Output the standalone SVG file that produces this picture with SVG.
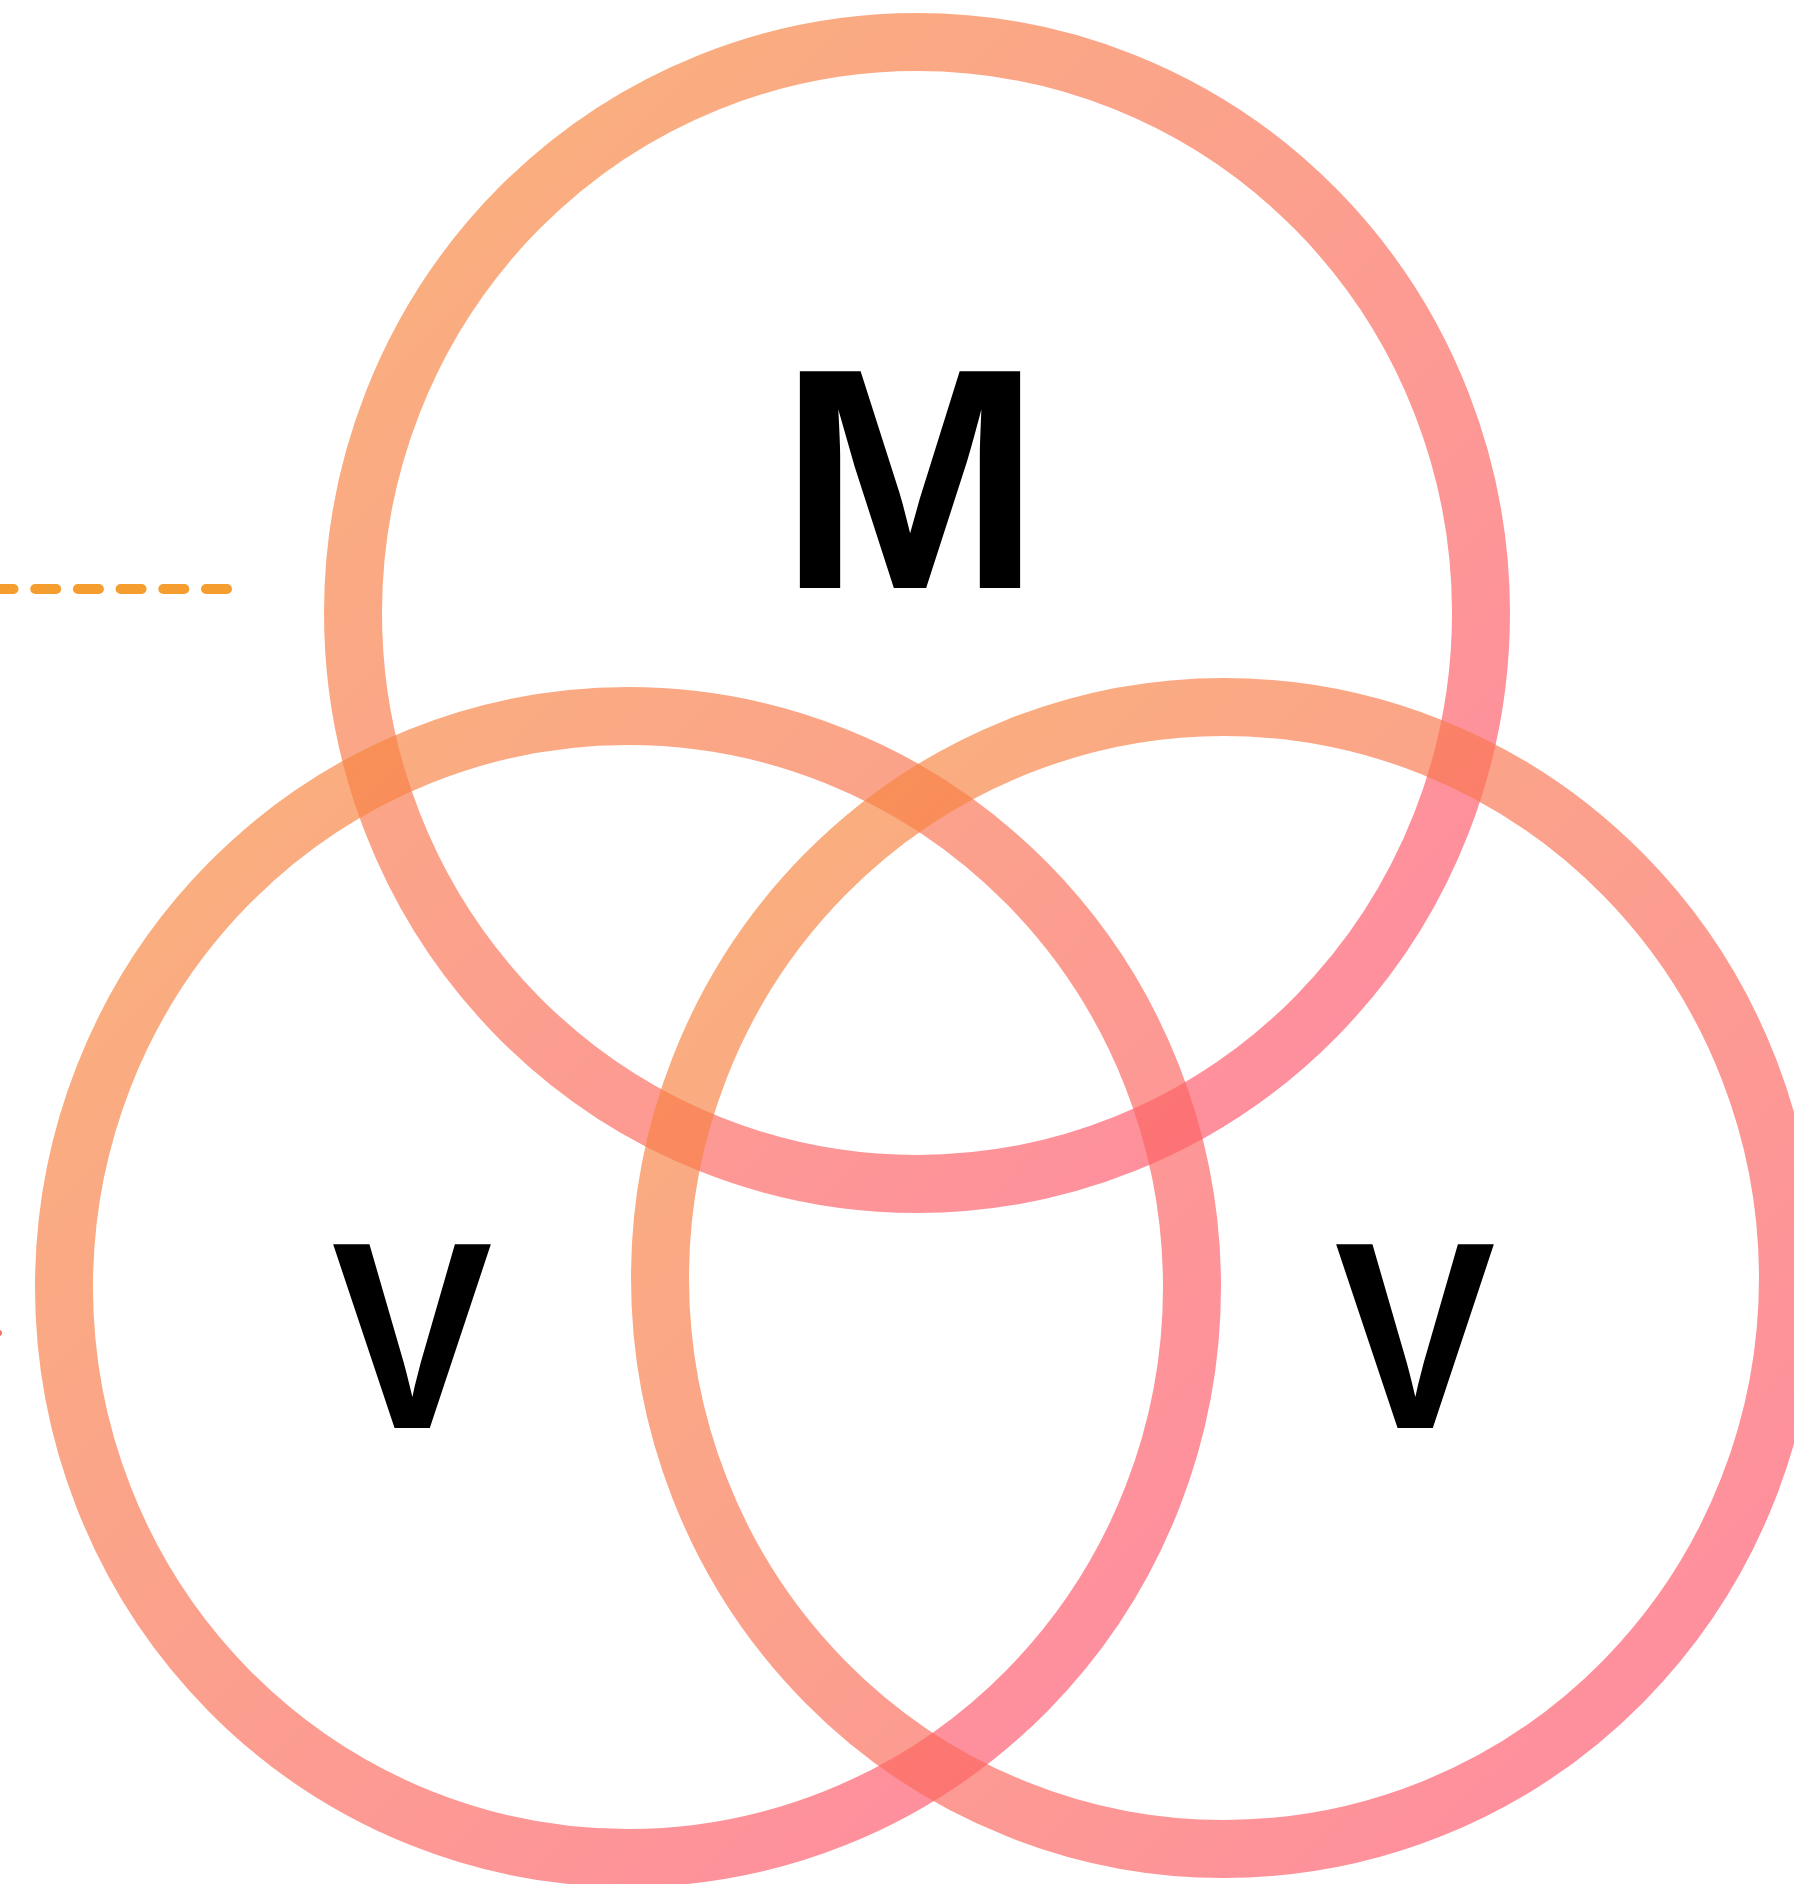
<svg xmlns="http://www.w3.org/2000/svg" width="1794" height="1884" viewBox="0 0 1794 1884">
  <defs>
    <linearGradient id="ringGrad" x1="0" y1="0" x2="1" y2="1">
      <stop offset="0" stop-color="#F68E38"/>
      <stop offset="1" stop-color="#FF5076"/>
    </linearGradient>
    <style>
      .ring { fill: none; stroke: url(#ringGrad); stroke-width: 58; stroke-opacity: 0.67; }
      .label { font-family: "Liberation Sans", Arial, sans-serif; font-weight: bold; fill: #000000; text-anchor: middle; }
      .dash { stroke: #F59E2F; stroke-width: 10; stroke-linecap: round; stroke-dasharray: 21 21.7; fill: none; }
    </style>
  </defs>
  <rect width="1794" height="1884" fill="#FFFFFF"/>
  <g id="decor">
    <line class="dash" x1="227" y1="589" x2="-30" y2="589"/>
    <circle cx="-1" cy="1333" r="3" fill="#F2705E"/>
  </g>
  <g id="connectors"></g>
  <g id="node-m">
    <ellipse class="ring" cx="917" cy="613" rx="564" ry="571"/>
    <text class="label" x="910" y="588" font-size="315">M</text>
  </g>
  <g id="node-v-left">
    <ellipse class="ring" cx="628" cy="1287" rx="564" ry="571"/>
    <text class="label" x="412" y="1428" font-size="267" textLength="161" lengthAdjust="spacingAndGlyphs">V</text>
  </g>
  <g id="node-v-right">
    <ellipse class="ring" cx="1224" cy="1278" rx="564" ry="571"/>
    <text class="label" x="1415" y="1428" font-size="267" textLength="161" lengthAdjust="spacingAndGlyphs">V</text>
  </g>
</svg>
